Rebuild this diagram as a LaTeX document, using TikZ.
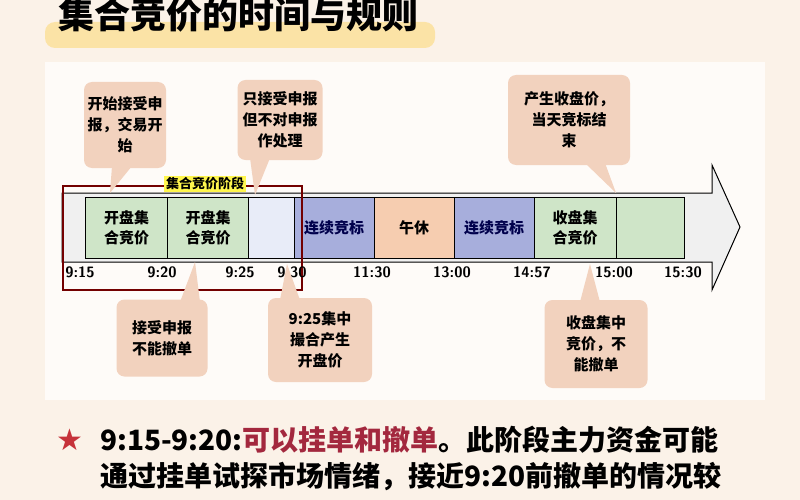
\documentclass[tikz,border=0pt]{standalone}
\usepackage{fontspec}
\newfontfamily\cjk{Noto Sans CJK SC}
\begin{document}
\begin{tikzpicture}[x=1pt,y=-1pt,
  call/.style={fill=callc, rounded corners=8pt, align=center, font=\cjk\bfseries\fontsize{15}{21}\selectfont, inner sep=0pt},
  cell/.style={draw=black, line width=1pt, minimum height=61pt, align=center, font=\cjk\bfseries\fontsize{15}{20}\selectfont, inner sep=0pt},
  tl/.style={font=\bfseries\fontsize{15}{15}\selectfont\sffamily}]
\definecolor{callc}{HTML}{F2D2BE}
\definecolor{grc}{HTML}{CFE5C8}
\definecolor{blc}{HTML}{A7AEDC}
\definecolor{pkc}{HTML}{F6CDB0}
\definecolor{lbc}{HTML}{E8ECF8}
\definecolor{bgc}{HTML}{FBF2E8}
\definecolor{redc}{HTML}{C6323A}
\definecolor{drc}{HTML}{A3283E}
\definecolor{hlc}{HTML}{FBE3A6}
\fill[bgc] (0,0) rectangle (800,500);
\useasboundingbox (0,0) rectangle (800,500);
\fill[white!70!bgc] (45,62) rectangle (765,400);
% title
\fill[hlc, rounded corners=10pt] (45,22) rectangle (435,48);
\node[font=\cjk\bfseries\fontsize{36}{36}\selectfont, anchor=west] (title) at (55,15) {集合竞价的时间与规则};
% arrow
\filldraw[fill=gray!12, draw=black, line width=1pt] (62,193) -- (712,193) -- (712,165) -- (740,227) -- (712,290) -- (712,262) -- (62,262) -- cycle;
% cells
\node[cell, fill=grc, minimum width=83pt] (c1) at (126.5,227.5) {开盘集\\合竞价};
\node[cell, fill=grc, minimum width=81pt] (c2) at (208,227.5) {开盘集\\合竞价};
\node[cell, fill=lbc, minimum width=46pt] (c3) at (271.5,227.5) {};
\node[cell, fill=blc, minimum width=80pt, text=blue!30!black] (c4) at (334,227.5) {连续竞标};
\node[cell, fill=pkc, minimum width=80pt] (c5) at (414,227.5) {午休};
\node[cell, fill=blc, minimum width=80pt, text=blue!30!black] (c6) at (494,227.5) {连续竞标};
\node[cell, fill=grc, minimum width=82pt] (c7) at (575,227.5) {收盘集\\合竞价};
\node[cell, fill=grc, minimum width=68pt] (c8) at (650,227.5) {};
% red frame
\draw[draw=red!45!black, line width=1.2pt] (63,186) rectangle (302,290);
\node[fill=yellow!70, font=\cjk\bfseries\fontsize{13}{13}\selectfont, inner sep=2pt] (stage) at (205,184) {集合竞价阶段};
% times
\node[tl] (t1) at (80,272) {9:15};
\node[tl] (t2) at (162,272) {9:20};
\node[tl] (t3) at (240,272) {9:25};
\node[tl] (t4) at (292,272) {9:30};
\node[tl] (t5) at (372,272) {11:30};
\node[tl] (t6) at (452,272) {13:00};
\node[tl] (t7) at (532,272) {14:57};
\node[tl] (t8) at (614,272) {15:00};
\node[tl] (t9) at (683,272) {15:30};
% callouts
\node[call, minimum width=82pt, minimum height=86pt] (b1) at (125,125) {开始接受申\\报，交易开\\始};
\fill[callc] (112,166) -- (132,166) -- (110,193) -- cycle;
\node[call, minimum width=85pt, minimum height=80pt] (b2) at (280,120) {只接受申报\\但不对申报\\作处理};
\fill[callc] (250,158) -- (270,158) -- (255,195) -- cycle;
\node[call, minimum width=122pt, minimum height=90pt] (b3) at (569,120) {产生收盘价，\\当天竞标结\\束};
\fill[callc] (585,163) -- (605,163) -- (616,193) -- cycle;
\node[call, minimum width=91pt, minimum height=77pt] (b4) at (162,338) {接受申报\\不能撤单};
\fill[callc] (180,302) -- (200,302) -- (195,262) -- cycle;
\node[call, minimum width=104pt, minimum height=84pt] (b5) at (320,340) {9:25集中\\撮合产生\\开盘价};
\fill[callc] (280,300) -- (300,300) -- (287,264) -- cycle;
\node[call, minimum width=103pt, minimum height=88pt] (b6) at (596,344) {收盘集中\\竞价，不\\能撤单};
\fill[callc] (580,302) -- (600,302) -- (590,264) -- cycle;
% bottom text
\node[text=redc, font=\fontspec{DejaVu Sans}\fontsize{30}{30}\selectfont] (star) at (70,440) {★};
\node[anchor=west, font=\cjk\bfseries\fontsize{28}{28}\selectfont, inner sep=0pt] (l1) at (100,440) {9:15-9:20:\textcolor{drc}{可以挂单和撤单}。此阶段主力资金可能};
\node[anchor=west, font=\cjk\bfseries\fontsize{28}{28}\selectfont, inner sep=0pt] (l2) at (100,477) {通过挂单试探市场情绪，接近9:20前撤单的情况较};
\end{tikzpicture}
\end{document}
